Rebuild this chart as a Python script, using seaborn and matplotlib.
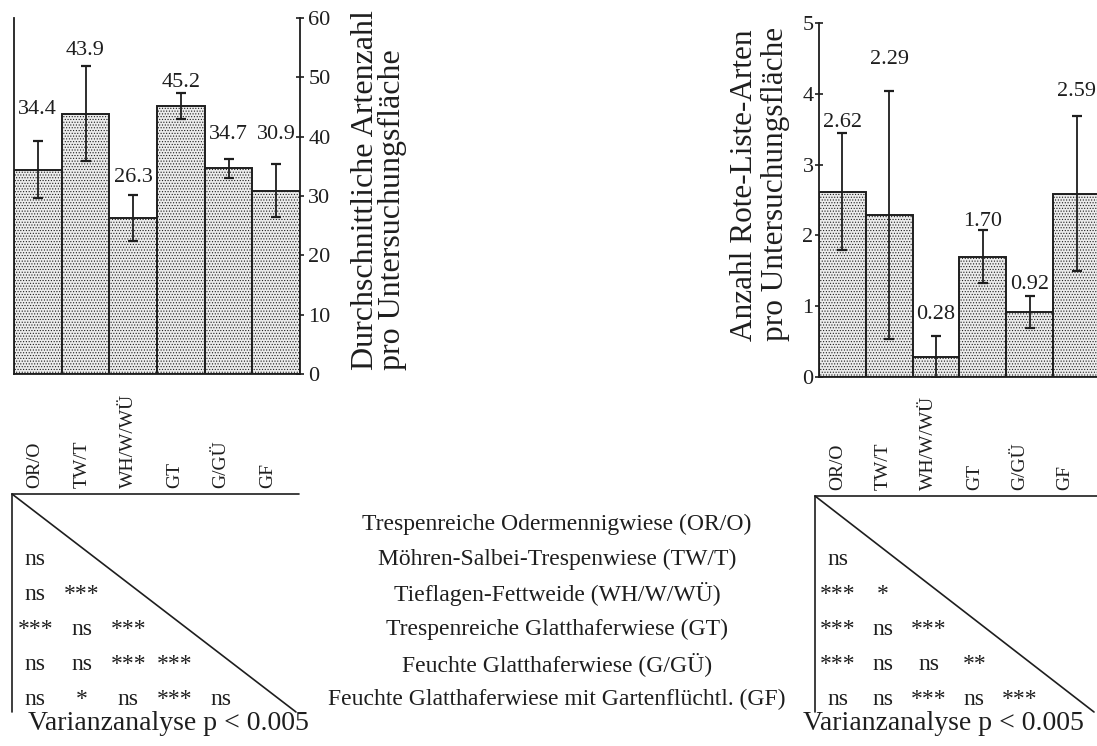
import matplotlib
matplotlib.use("Agg")
import matplotlib.pyplot as plt
import seaborn as sns

# Gesellschaften (Kuerzel und Namen)
kuerzel = ["OR/O", "TW/T", "WH/W/WÜ", "GT", "G/GÜ", "GF"]
namen = [
    "Trespenreiche Odermennigwiese (OR/O)",
    "Möhren-Salbei-Trespenwiese (TW/T)",
    "Tieflagen-Fettweide (WH/W/WÜ)",
    "Trespenreiche Glatthaferwiese (GT)",
    "Feuchte Glatthaferwiese (G/GÜ)",
    "Feuchte Glatthaferwiese mit Gartenflüchtl. (GF)",
]

# mittlere Artenzahl +- Fehler
artenzahl = [34.4, 43.9, 26.3, 45.2, 34.7, 30.9]
artenzahl_err = [4.8, 8.0, 3.8, 2.2, 1.6, 4.5]
artenzahl_txt = ["34.4", "43.9", "26.3", "45.2", "34.7", "30.9"]

# Rote-Liste-Arten +- Fehler
rote_liste = [2.62, 2.29, 0.28, 1.70, 0.92, 2.59]
rote_liste_err = [0.83, 1.75, 0.30, 0.37, 0.23, 1.09]
rote_liste_txt = ["2.62", "2.29", "0.28", "1.70", "0.92", "2.59"]

# Signifikanzen (untere Dreiecksmatrix)
sig_artenzahl = [
    [],
    ["ns"],
    ["ns", "***"],
    ["***", "ns", "***"],
    ["ns", "ns", "***", "***"],
    ["ns", "*", "ns", "***", "ns"],
]
sig_rote_liste = [
    [],
    ["ns"],
    ["***", "*"],
    ["***", "ns", "***"],
    ["***", "ns", "ns", "**"],
    ["ns", "ns", "***", "ns", "***"],
]

# Lage der Zahlen ueber den Balken (Datenwerte)
pos_artenzahl = [44.5, 54.6, 33.2, 49.2, 40.3, 40.3]
pos_rote_liste = [3.60, 4.48, 0.88, 2.19, 1.30, 4.03]

sns.set_theme(style="white")
plt.rcParams["font.family"] = ["Liberation Serif", "DejaVu Serif"]
plt.rcParams["hatch.color"] = "#9a9a9a"
plt.rcParams["hatch.linewidth"] = 0.5

INK = "#1e1e1e"
W, H = 1097, 746
fig = plt.figure(figsize=(W / 100, H / 100), dpi=100)


def px_axes(x0, y0, x1, y1):
    # Achsen in Pixelkoordinaten (oben links = 0,0)
    return fig.add_axes([x0 / W, 1 - y1 / H, (x1 - x0) / W, (y1 - y0) / H])


def balken(ax, werte, fehler, texte, pos, ymax):
    sns.barplot(x=kuerzel, y=werte, ax=ax, color="#ececec", width=1.0,
                edgecolor=INK, linewidth=1.4, errorbar=None)
    for p in ax.patches:
        p.set_hatch("......")
    ax.errorbar(range(len(werte)), werte, yerr=fehler, fmt="none",
                ecolor=INK, elinewidth=1.3, capsize=3.5, capthick=1.6)
    for i, t in enumerate(texte):
        ax.text(i, pos[i], t, ha="center", va="center", fontsize=16, color=INK)
    ax.set_xlim(-0.5, 5.5)
    ax.set_ylim(0, ymax)
    ax.set_xticks([])
    ax.set_xlabel("")
    ax.set_ylabel("")
    for s in ax.spines.values():
        s.set_color(INK)
        s.set_linewidth(1.3)
    ax.spines["top"].set_visible(False)
    ax.set_facecolor("none")


# linkes Diagramm: Artenzahl
ax1 = px_axes(14, 18, 300, 374)
balken(ax1, artenzahl, artenzahl_err, artenzahl_txt, pos_artenzahl, 60)
ax1.yaxis.tick_right()
ax1.set_yticks(range(0, 61, 10))
ax1.tick_params(axis="y", direction="inout", length=6, width=1.2,
                labelsize=16, pad=3, colors=INK, right=True, left=False)

# rechtes Diagramm: Rote-Liste-Arten
ax2 = px_axes(819, 23, 1100, 377)
balken(ax2, rote_liste, rote_liste_err, rote_liste_txt, pos_rote_liste, 5)
ax2.spines["right"].set_visible(False)
ax2.set_yticks(range(0, 6))
ax2.tick_params(axis="y", direction="inout", length=6, width=1.2,
                labelsize=16, pad=1, colors=INK, left=True)

# Ueberlagerung fuer Beschriftung und Matrizen
ov = fig.add_axes([0, 0, 1, 1], zorder=-1)
ov.set_xlim(0, W)
ov.set_ylim(H, 0)
ov.axis("off")

ov.text(379, 370, "Durchschnittliche Artenzahl\npro Untersuchungsfläche",
        rotation=90, ha="center", va="bottom", multialignment="left",
        fontsize=23, linespacing=0.87, color=INK)
ov.text(760, 341, "Anzahl Rote-Liste-Arten\npro Untersuchungsfläche",
        rotation=90, ha="center", va="bottom", multialignment="left",
        fontsize=22.5, linespacing=1.05, color=INK)

zeilen_y = [524 + 35 * i for i in range(6)]


def matrix(x0, y0, x1, y1, spalte, sig, x_titel):
    ov.plot([x0, x1], [y0, y0], color=INK, lw=1.2)
    ov.plot([x0, x0], [y0, y1], color=INK, lw=1.2)
    ov.plot([x0, x1 - 3], [y0, y1], color=INK, lw=1.2)
    for j, k in enumerate(kuerzel):
        ov.text(x0 + (j + 0.5) * spalte, y0 - 6, k, rotation=90, ha="center",
                va="bottom", fontsize=14, color=INK)
    for i, reihe in enumerate(sig):
        for j, s in enumerate(reihe):
            ov.text(x0 + (j + 0.5) * spalte, zeilen_y[i] + 6, s, ha="center",
                    va="baseline", fontsize=17, color=INK)
    ov.text(x_titel, y1 + 12, "Varianzanalyse p < 0.005",
            ha="center", va="center", fontsize=20, color=INK)


matrix(12, 494, 299, 712, 46.5, sig_artenzahl, 168)
matrix(815, 496, 1097, 712, 45.5, sig_rote_liste, 943)

for i, n in enumerate(namen):
    ov.text(557, zeilen_y[i], n, ha="center", va="center", fontsize=17, color=INK)

fig.savefig("out.png", dpi=100)
